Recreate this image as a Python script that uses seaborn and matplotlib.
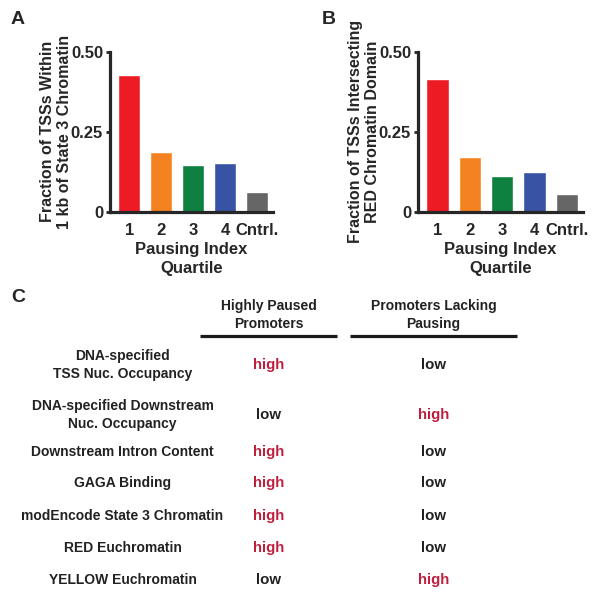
import pandas as pd
import matplotlib
matplotlib.use("Agg")
import matplotlib.pyplot as plt
import seaborn as sns

# panel A / B data
quartiles = ["1", "2", "3", "4", "Cntrl."]
state3_frac = [0.426, 0.187, 0.147, 0.152, 0.063]
red_frac = [0.415, 0.172, 0.112, 0.124, 0.055]
bar_colors = ["#ED1C24", "#F58220", "#0E8040", "#3953A4", "#666666"]
y_ticks = [0, 0.25, 0.50]
y_ticklabels = ["0", "0.25", "0.50"]

# panel C data
col_headers = ["Highly Paused\nPromoters", "Promoters Lacking\nPausing"]
row_labels = [
    "DNA-specified\nTSS Nuc. Occupancy",
    "DNA-specified Downstream\nNuc. Occupancy",
    "Downstream Intron Content",
    "GAGA Binding",
    "modEncode State 3 Chromatin",
    "RED Euchromatin",
    "YELLOW Euchromatin",
]
paused_vals = ["high", "low", "high", "high", "high", "high", "low"]
lacking_vals = ["low", "high", "low", "low", "low", "low", "high"]

sns.set_style("ticks")
plt.rcParams["font.family"] = ["Liberation Sans", "DejaVu Sans"]
plt.rcParams["font.weight"] = "bold"

W, H = 601, 600
fig = plt.figure(figsize=(W / 100, H / 100), dpi=100)


def px_axes(x0, x1, y0, y1):
    return fig.add_axes([x0 / W, 1 - y1 / H, (x1 - x0) / W, (y1 - y0) / H])


def bar_panel(ax, values, ylabel):
    df = pd.DataFrame({"q": quartiles, "v": values})
    sns.barplot(data=df, x="q", y="v", hue="q", palette=bar_colors,
                legend=False, width=0.69, saturation=1, ax=ax)
    ax.set_ylim(0, 0.5)
    ax.set_xlim(-0.6, 4.5)
    ax.set_yticks(y_ticks)
    ax.set_yticklabels(y_ticklabels)
    ax.tick_params(axis="y", length=3, width=2, labelsize=12, pad=2)
    ax.tick_params(axis="x", length=0, labelsize=12, pad=8)
    for t in ax.get_xticklabels() + ax.get_yticklabels():
        t.set_fontweight("bold")
    ax.set_xlabel("Pausing Index\nQuartile", fontsize=12, fontweight="bold",
                  labelpad=3, linespacing=1.3)
    ax.set_ylabel(ylabel, fontsize=11.5, fontweight="bold", labelpad=-1,
                  linespacing=1.2)
    for s in ["left", "bottom"]:
        ax.spines[s].set_linewidth(2.3)
    sns.despine(ax=ax)


axA = px_axes(110, 273, 51.7, 211.7)
bar_panel(axA, state3_frac, "Fraction of TSSs Within\n1 kb of State 3 Chromatin")
axB = px_axes(418, 583, 51.7, 211.7)
bar_panel(axB, red_frac, "Fraction of TSSs Intersecting\nRED Chromatin Domain")

fig.text(11 / W, 1 - 20 / H, "A", fontsize=14, fontweight="bold", va="center")
fig.text(322 / W, 1 - 19 / H, "B", fontsize=14, fontweight="bold", va="center")
fig.text(11 / W, 1 - 297 / H, "C", fontsize=14, fontweight="bold", va="center")

# panel C: table drawn in pixel coordinates of a blank axes
axC = fig.add_axes([0, 0, 1, 1])
axC.set_xlim(0, W)
axC.set_ylim(H, 0)
axC.axis("off")

col_x = [268.5, 433.5]
col_lines = [(200, 337), (350, 517)]
row_y = [365, 415, 451.7, 483.3, 516, 547.7, 580]
hi_color = "#BE1E3C"

for cx, (l0, l1), hdr in zip(col_x, col_lines, col_headers):
    axC.text(cx, 315, hdr, ha="center", va="center", fontsize=10,
             fontweight="bold", linespacing=1.45, color="#222222")
    axC.plot([l0, l1], [335.7, 335.7], color="#1a1a1a", lw=2.3,
             solid_capstyle="butt")

for y, lab, pv, lv in zip(row_y, row_labels, paused_vals, lacking_vals):
    axC.text(122.5, y, lab, ha="center", va="center", fontsize=10,
             fontweight="bold", linespacing=1.45, color="#222222")
    for cx, val in zip(col_x, [pv, lv]):
        axC.text(cx, y, val, ha="center", va="center", fontsize=10.8,
                 fontweight="bold",
                 color=hi_color if val == "high" else "#222222")

fig.savefig("out.png", dpi=100)
